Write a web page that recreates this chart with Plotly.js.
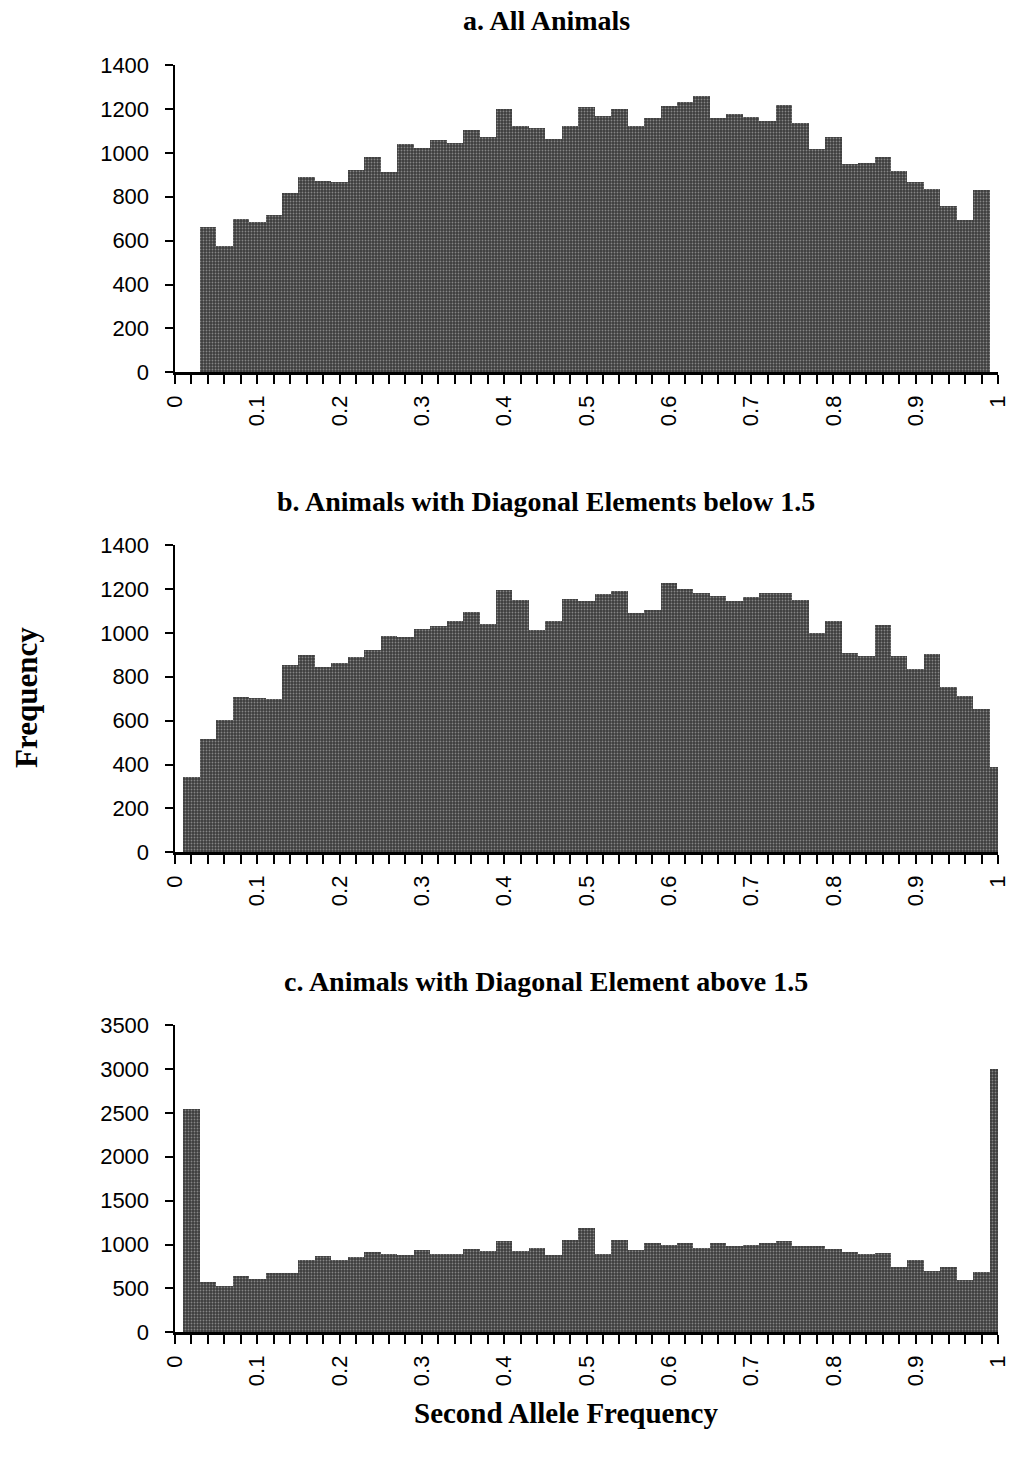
<!DOCTYPE html>
<html>
<head>
<meta charset="utf-8">
<script src="https://cdn.plot.ly/plotly-3.0.1.min.js"></script>
<style>
  html, body { margin: 0; padding: 0; background: #fff; }
  #chart { width: 1013px; height: 1458px; }
</style>
</head>
<body>
<div id="chart"></div>
<script>
// Bin centres of second allele frequency (category positions)
const binCenters = [0, 0.02, 0.04, 0.06, 0.08, 0.1, 0.12, 0.14, 0.16, 0.18,
  0.2, 0.22, 0.24, 0.26, 0.28, 0.3, 0.32, 0.34, 0.36, 0.38,
  0.4, 0.42, 0.44, 0.46, 0.48, 0.5, 0.52, 0.54, 0.56, 0.58,
  0.6, 0.62, 0.64, 0.66, 0.68, 0.7, 0.72, 0.74, 0.76, 0.78,
  0.8, 0.82, 0.84, 0.86, 0.88, 0.9, 0.92, 0.94, 0.96, 0.98, 1];

// a. All Animals
const freqAll = [0, 0, 662, 577, 697, 685, 715, 818, 888, 871,
  865, 922, 982, 911, 1040, 1020, 1058, 1043, 1102, 1070,
  1201, 1121, 1111, 1063, 1124, 1207, 1169, 1198, 1122, 1160,
  1215, 1230, 1257, 1157, 1175, 1162, 1145, 1218, 1136, 1017,
  1070, 949, 952, 981, 919, 867, 834, 758, 692, 829, 0];

// b. Animals with Diagonal Elements below 1.5
const freqBelow = [0, 343, 518, 601, 706, 703, 697, 855, 897, 843,
  864, 891, 920, 984, 979, 1019, 1032, 1054, 1093, 1040,
  1196, 1148, 1013, 1055, 1152, 1146, 1177, 1189, 1090, 1102,
  1225, 1198, 1180, 1168, 1145, 1162, 1180, 1183, 1148, 998,
  1055, 910, 893, 1037, 893, 835, 903, 755, 711, 651, 390];

// c. Animals with Diagonal Element above 1.5
const freqAbove = [0, 2540, 577, 524, 645, 611, 672, 672, 824, 869,
  824, 858, 911, 896, 877, 934, 888, 888, 945, 923,
  1040, 926, 961, 885, 1052, 1185, 896, 1052, 934, 1021,
  991, 1021, 957, 1014, 980, 991, 1021, 1040, 980, 983,
  945, 911, 888, 900, 740, 828, 702, 748, 592, 691, 2995];

const panelTitles = [
  'a. All Animals',
  'b. Animals with Diagonal Elements below 1.5',
  'c. Animals with Diagonal Element above 1.5'
];
const yTitle = 'Frequency';
const xTitle = 'Second Allele Frequency';

const W = 1013, H = 1458;
const px = v => v / W;
const py = v => 1 - v / H;

const barMarker = {
  color: '#454545',
  line: { width: 0 },
  pattern: { shape: '.', fgcolor: '#858585', bgcolor: '#3c3c3c', size: 3, solidity: 0.3, fillmode: 'replace' }
};

function trace(y, xa, ya) {
  return { type: 'bar', x: binCenters, y: y, xaxis: xa, yaxis: ya,
           marker: barMarker, hoverinfo: 'x+y', showlegend: false };
}

const data = [
  trace(freqAll, 'x', 'y'),
  trace(freqBelow, 'x2', 'y2'),
  trace(freqAbove, 'x3', 'y3')
];

const tickFont = { family: 'Liberation Sans, Arial, sans-serif', size: 22, color: '#000' };
const serifBold = 'Liberation Serif, Times New Roman, serif';

function xAxis(anchor) {
  return {
    anchor: anchor, domain: [px(175), px(998)], range: [0, 1],
    showline: true, linecolor: '#000', linewidth: 2.5,
    ticks: 'outside', ticklen: 9, tickwidth: 2, tickcolor: '#000',
    tick0: 0, dtick: 0.1, tickangle: -90, tickfont: tickFont, ticklabelstandoff: 3,
    minor: { dtick: 0.02, ticks: 'outside', ticklen: 9, tickwidth: 2, tickcolor: '#000', showgrid: false },
    showgrid: false, zeroline: false, fixedrange: true
  };
}
function yAxis(anchor, top, bottom, maxV, step) {
  return {
    anchor: anchor, domain: [py(bottom), py(top)], range: [0, maxV],
    showline: true, linecolor: '#000', linewidth: 2.5,
    ticks: 'outside', ticklen: 8, tickwidth: 2, tickcolor: '#000',
    tick0: 0, dtick: step, tickfont: tickFont, ticklabelstandoff: 11,
    showgrid: false, zeroline: false, fixedrange: true
  };
}

const titleFont = { family: serifBold, size: 28, color: '#000' };

const layout = {
  width: W, height: H,
  margin: { l: 0, r: 0, t: 0, b: 0 },
  paper_bgcolor: '#fff', plot_bgcolor: '#fff',
  bargap: 0,
  showlegend: false,
  xaxis: xAxis('y'),
  yaxis: yAxis('x', 65, 372.3, 1400, 200),
  xaxis2: xAxis('y2'),
  yaxis2: yAxis('x2', 545, 852.3, 1400, 200),
  xaxis3: xAxis('y3'),
  yaxis3: yAxis('x3', 1025, 1332.3, 3500, 500),
  annotations: [
    { text: '<b>' + panelTitles[0] + '</b>', xref: 'paper', yref: 'paper', x: px(546), y: py(21),
      xanchor: 'center', yanchor: 'middle', showarrow: false, font: titleFont },
    { text: '<b>' + panelTitles[1] + '</b>', xref: 'paper', yref: 'paper', x: px(546), y: py(501),
      xanchor: 'center', yanchor: 'middle', showarrow: false, font: titleFont },
    { text: '<b>' + panelTitles[2] + '</b>', xref: 'paper', yref: 'paper', x: px(546), y: py(981),
      xanchor: 'center', yanchor: 'middle', showarrow: false, font: titleFont },
    { text: '<b>' + yTitle + '</b>', xref: 'paper', yref: 'paper', x: px(26), y: py(698), textangle: -90,
      xanchor: 'center', yanchor: 'middle', showarrow: false, font: { family: serifBold, size: 31, color: '#000' } },
    { text: '<b>' + xTitle + '</b>', xref: 'paper', yref: 'paper', x: px(566), y: py(1413),
      xanchor: 'center', yanchor: 'middle', showarrow: false, font: { family: serifBold, size: 29, color: '#000' } }
  ]
};

Plotly.newPlot('chart', data, layout, { staticPlot: true, displayModeBar: false });
</script>
</body>
</html>
